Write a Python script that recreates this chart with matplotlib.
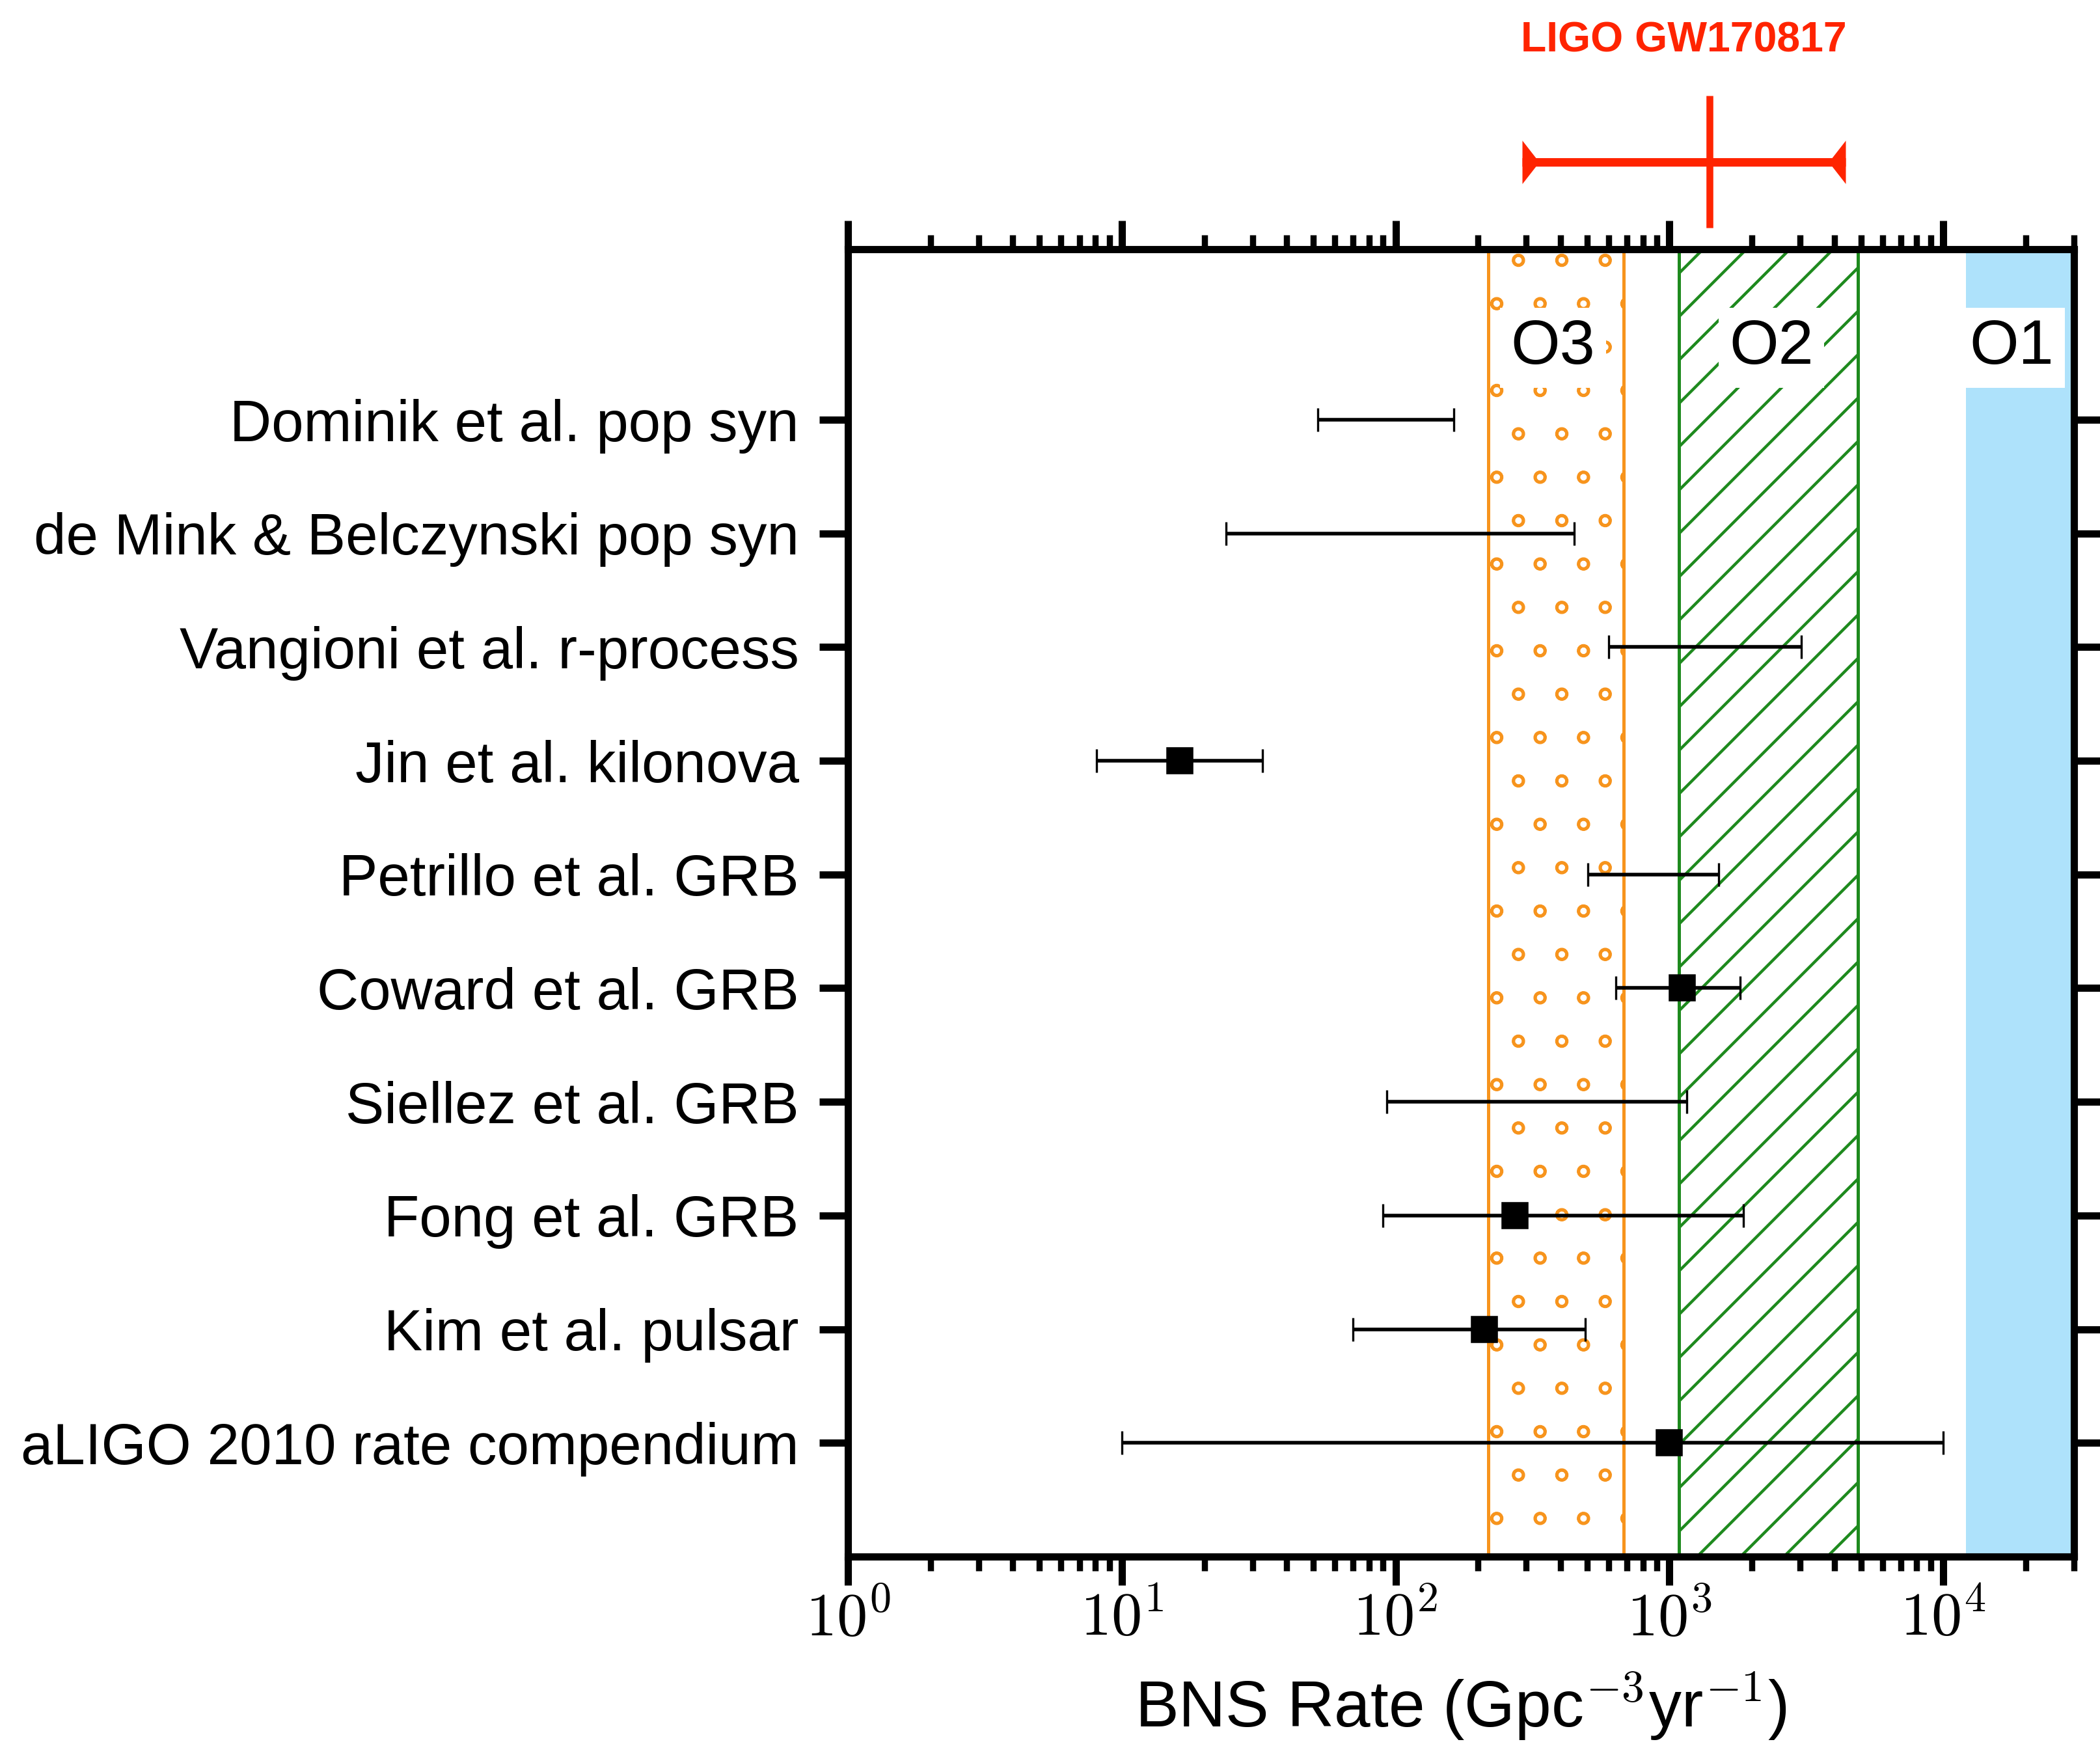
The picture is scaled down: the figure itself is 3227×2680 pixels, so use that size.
import numpy as np
import matplotlib
matplotlib.use('Agg')
import matplotlib.pyplot as plt
import matplotlib.hatch as mhatch
import matplotlib.transforms as mtransforms

# rate estimates, listed top to bottom
labels = [
    'Dominik et al. pop syn',
    'de Mink & Belczynski pop syn',
    'Vangioni et al. r-process',
    'Jin et al. kilonova',
    'Petrillo et al. GRB',
    'Coward et al. GRB',
    'Siellez et al. GRB',
    'Fong et al. GRB',
    'Kim et al. pulsar',
    'aLIGO 2010 rate compendium',
]
rate_lo = [52, 24, 600, 8.1, 503, 637, 93, 90, 70, 10]
rate_hi = [163, 448, 3030, 32.6, 1513, 1811, 1156, 1866, 492, 10000]
rate_mid = [np.nan, np.nan, np.nan, 16.3, np.nan, 1112, np.nan, 272, 211, 1000]

# observing run sensitivity bands
o3_band = (218, 680)
o2_band = (1083, 4880)
o1_limit = 12100

# GW170817 measurement
gw_rate = 1400
gw_lo = 290
gw_hi = 4400

decades = [0, 1, 2, 3, 4]

red = '#ff2400'
orange = '#f7941d'
green = '#1e8a1e'
blue = '#aee2fb'

plt.rcParams['font.family'] = ['Liberation Sans', 'DejaVu Sans']
plt.rcParams['mathtext.fontset'] = 'cm'
plt.rcParams['hatch.linewidth'] = 0.8
# smaller rings for the 'o' hatch
mhatch.SmallCircles.size = 0.12

fig = plt.figure(figsize=(3227 / 400, 2680 / 400), dpi=400)
ax = fig.add_axes([0.4038, 0.1075, 0.5838, 0.7496])
ax.set_xscale('log')

n = len(labels)
y = np.arange(n, 0, -1)
lo = np.array(rate_lo, dtype=float)
hi = np.array(rate_hi, dtype=float)
mid = np.array(rate_mid, dtype=float)

ax.axvspan(*o3_band, facecolor='white', edgecolor=orange, hatch='o', lw=0.9, zorder=0.5)
ax.axvspan(*o2_band, facecolor='white', edgecolor=green, hatch='//', lw=0.9, zorder=0.5)
ax.axvspan(o1_limit, 1e6, facecolor=blue, edgecolor='none', zorder=0.5)

centre = np.sqrt(lo * hi)
ax.errorbar(centre, y, xerr=[centre - lo, hi - centre], fmt='none', ecolor='black',
            elinewidth=1.0, capsize=3.3, capthick=0.6, zorder=3)
has_mid = ~np.isnan(mid)
ax.plot(mid[has_mid], y[has_mid], 's', color='black', ms=6.5, zorder=4)

run_box = dict(facecolor='white', edgecolor='none', pad=3)
ax.text(376, 10.49, 'O3', ha='center', va='baseline', fontsize=17.5, bbox=run_box, zorder=2)
ax.text(2355, 10.49, 'O2', ha='center', va='baseline', fontsize=17.5, bbox=run_box, zorder=2)
ax.text(17770, 10.49, 'O1', ha='center', va='baseline', fontsize=17.5, bbox=run_box, zorder=2)

ax.set_xlim(1, 3e4)
ax.set_ylim(0, 11.5)
ax.set_yticks(y)
ax.set_yticklabels(labels)
ax.set_xticks([10.0 ** k for k in decades])
ax.set_xticklabels([r'$10^{%d}$' % k for k in decades])
ax.xaxis.set_minor_locator(matplotlib.ticker.LogLocator(base=10, subs=np.arange(2, 10), numticks=20))
ax.xaxis.set_minor_formatter(matplotlib.ticker.NullFormatter())

for side in ax.spines.values():
    side.set_linewidth(2)
ax.tick_params(which='both', direction='out', top=True, right=True)
ax.tick_params(which='major', length=8, width=2)
ax.tick_params(which='minor', length=4, width=1.7)
ax.tick_params(axis='y', labelsize=16, pad=5.6)
ax.tick_params(axis='x', which='major', labelsize=17, pad=1.5)
ax.set_xlabel(r'BNS Rate (Gpc$^{-3}$yr$^{-1}$)', fontsize=18, labelpad=6)

# GW170817 rate drawn above the frame
trans = mtransforms.blended_transform_factory(ax.transData, ax.transAxes)
ax.plot([gw_lo, gw_hi], [1.0667, 1.0667], color=red, lw=2.35, solid_capstyle='butt',
        transform=trans, clip_on=False)
ax.plot([gw_rate, gw_rate], [1.0164, 1.1175], color=red, lw=1.9, solid_capstyle='butt',
        transform=trans, clip_on=False)
left_cap = [(0, -1), (0, 1), (0.78, 0)]
right_cap = [(0, -1), (0, 1), (-0.78, 0)]
ax.plot([gw_lo], [1.0667], marker=left_cap, ms=12, mew=0, color=red,
        transform=trans, clip_on=False)
ax.plot([gw_hi], [1.0667], marker=right_cap, ms=12, mew=0, color=red,
        transform=trans, clip_on=False)
fig.text(0.8017, 0.9703, 'LIGO GW170817', ha='center', va='baseline', color=red,
         fontsize=11.6, fontweight='bold')

fig.savefig('out.png', dpi=400)
